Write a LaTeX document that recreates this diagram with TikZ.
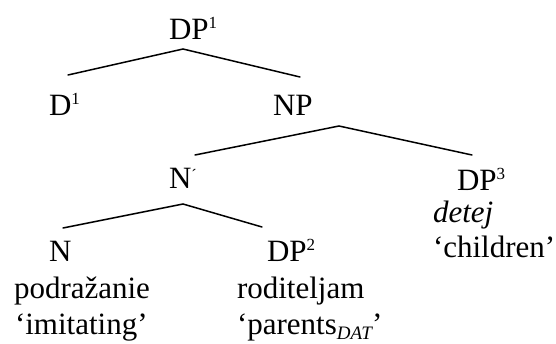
\documentclass[tikz,border=0pt]{standalone}
\usepackage{fontspec}
\setmainfont{Liberation Serif}
\newcommand{\supx}[1]{\raisebox{11pt}{\fontsize{17}{17}\selectfont #1}}
\newcommand{\subx}[1]{\raisebox{-5pt}{\fontsize{19}{19}\selectfont\itshape #1}}
\begin{document}
\begin{tikzpicture}[x=1pt,y=-1pt,
  lbl/.style={anchor=base west,inner sep=0pt,outer sep=0pt,font=\fontsize{31}{36}\selectfont},
  branch/.style={line width=1.5pt,line cap=round}]
\useasboundingbox (0,0) rectangle (556,343);
% labels
\node[lbl] (dp1) at (169,39) {DP\supx{1}};
\node[lbl] (d1) at (49,115) {D\supx{1}};
\node[lbl] (np) at (273,115) {NP};
\node[lbl] (nbar) at (169,188) {N\raisebox{8pt}{\fontsize{16}{16}\selectfont ´}};
\node[lbl] (dp3) at (457,190) {DP\supx{3}};
\node[lbl] (detej) at (433,222) {\itshape detej};
\node[lbl] (children) at (433,257) {‘children’};
\node[lbl] (n) at (49,261) {N};
\node[lbl] (podr) at (14,298) {podražanie};
\node[lbl] (imit) at (15,334) {‘imitating’};
\node[lbl] (dp2) at (267,261) {DP\supx{2}};
\node[lbl] (rodit) at (237,298) {roditeljam};
\node[lbl] (parents) at (237,334) {‘parents\subx{DAT}’};
% branch points
\coordinate (dp1top) at (183,49);
\coordinate (dp1L) at (68,75);
\coordinate (dp1R) at (300,77);
\coordinate (nptop) at (339,126);
\coordinate (npL) at (195,155);
\coordinate (npR) at (472,155);
\coordinate (nbartop) at (183,204);
\coordinate (nbarL) at (63,228);
\coordinate (nbarR) at (262,227);
\draw[branch] (dp1L) -- (dp1top) -- (dp1R);
\draw[branch] (npL) -- (nptop) -- (npR);
\draw[branch] (nbarL) -- (nbartop) -- (nbarR);
\end{tikzpicture}
\end{document}
